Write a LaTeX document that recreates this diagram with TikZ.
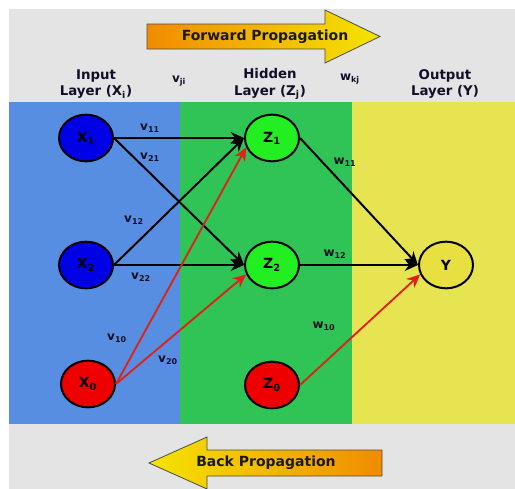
\documentclass[tikz,border=0pt]{standalone}
\usepackage{fontspec}
\setmainfont{DejaVu Sans}
\usetikzlibrary{shapes.geometric,arrows.meta}
\definecolor{bggray}{RGB}{228,228,228}
\definecolor{bandblue}{RGB}{88,142,226}
\definecolor{bandgreen}{RGB}{48,196,86}
\definecolor{bandyellow}{RGB}{230,228,80}
\definecolor{nodeblue}{RGB}{0,0,230}
\definecolor{nodegreen}{RGB}{34,238,34}
\definecolor{nodered}{RGB}{238,0,0}
\definecolor{nodeyellow}{RGB}{232,224,64}
\definecolor{biasred}{RGB}{222,34,24}
\definecolor{arrorange}{RGB}{240,140,0}
\definecolor{arryellow}{RGB}{245,228,0}
\definecolor{labelink}{RGB}{16,16,40}
\tikzset{
  neuron/.style={ellipse, draw, line width=1.5pt, minimum width=40.5pt, minimum height=35pt, inner sep=0pt, font=\bfseries\fontsize{10.5}{12}\selectfont},
  conn/.style={line width=1.5pt, -{Stealth[length=10pt,width=9pt]}},
  bias/.style={conn, draw=biasred, line width=1.4pt},
  wlabel/.style={font=\bfseries\fontsize{9}{10}\selectfont, text=labelink},
  header/.style={align=center, font=\bfseries\fontsize{10}{12.5}\selectfont, text=labelink},
  bigarrow/.style={draw=black!70, line width=0.6pt},
  arrtext/.style={font=\bfseries\fontsize{10.5}{12}\selectfont, text=black!90},
}
\begin{document}
\begin{tikzpicture}[x=0.75pt,y=-0.75pt]
  \useasboundingbox (0,0) rectangle (515,489);
  \path[fill=bggray] (9,9) rectangle (515,489);
  \path[fill=bandblue] (9,102) rectangle (180,424);
  \path[fill=bandgreen] (180,102) rectangle (352,424);
  \path[fill=bandyellow] (352,102) rectangle (515,424);

  \path[bigarrow, left color=arrorange, right color=arryellow]
    (147,24) -- (325,24) -- (325,10) -- (380,36.5) -- (325,63) -- (325,49) -- (147,49) -- cycle;
  \node[arrtext] (fwd) at (265,37) {Forward Propagation};
  \path[bigarrow, left color=arryellow, right color=arrorange]
    (382,450) -- (207,450) -- (207,437) -- (149,463) -- (207,489) -- (207,476) -- (382,476) -- cycle;
  \node[arrtext] (back) at (266,463) {Back Propagation};

  \node[header] (inhead) at (96,84) {Input\\Layer (X\textsubscript{i})};
  \node[header] (hidhead) at (270,84) {Hidden\\Layer (Z\textsubscript{j})};
  \node[header] (outhead) at (445,84) {Output\\Layer (Y)};
  \node[wlabel] (vji) at (179,81) {v\textsubscript{ji}};
  \node[wlabel] (wkj) at (350,79) {w\textsubscript{kj}};

  \node[neuron, fill=nodeblue] (X1) at (86,138) {X\textsubscript{1}};
  \node[neuron, fill=nodeblue] (X2) at (86,265) {X\textsubscript{2}};
  \node[neuron, fill=nodered] (X0) at (88,384) {X\textsubscript{0}};
  \node[neuron, fill=nodegreen] (Z1) at (272,138) {Z\textsubscript{1}};
  \node[neuron, fill=nodegreen] (Z2) at (272,265) {Z\textsubscript{2}};
  \node[neuron, fill=nodered] (Z0) at (272,385) {Z\textsubscript{0}};
  \node[neuron, fill=nodeyellow] (Y) at (446,265) {Y};

  \path[draw, conn] (X1.east) -- (Z1.west);
  \path[draw, conn] (X1.east) -- (Z2.west);
  \path[draw, conn] (X2.east) -- (Z1.west);
  \path[draw, conn] (X2.east) -- (Z2.west);
  \path[draw, bias] (X0.east) -- (Z1.200);
  \path[draw, bias] (X0.east) -- (Z2.200);
  \path[draw, conn] (Z1.east) -- (Y.west);
  \path[draw, conn] (Z2.east) -- (Y.west);
  \path[draw, bias] (Z0.east) -- (Y.200);

  \node[wlabel] (v11) at (150,128) {v\textsubscript{11}};
  \node[wlabel] (v21) at (150,157) {v\textsubscript{21}};
  \node[wlabel] (v12) at (134,220) {v\textsubscript{12}};
  \node[wlabel] (v22) at (141,277) {v\textsubscript{22}};
  \node[wlabel] (v10) at (117,338) {v\textsubscript{10}};
  \node[wlabel] (v20) at (168,360) {v\textsubscript{20}};
  \node[wlabel] (w11) at (345,162) {w\textsubscript{11}};
  \node[wlabel] (w12) at (335,254) {w\textsubscript{12}};
  \node[wlabel] (w10) at (324,326) {w\textsubscript{10}};
\end{tikzpicture}
\end{document}
